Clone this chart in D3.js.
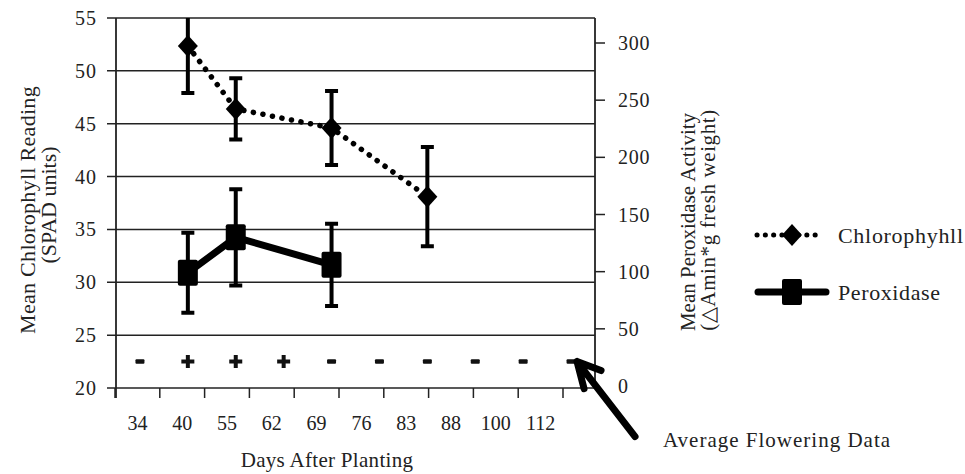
<!DOCTYPE html>
<html lang="en">
<head>
<meta charset="UTF-8" />
<title>Chlorophyll and Peroxidase</title>
<script src="https://d3js.org/d3.v7.min.js"></script>
<style>
    body { margin: 0; background: #fff; }
    svg text { font-family: "Liberation Serif", "Times New Roman", serif; fill: #222; }
    .grid line { stroke: #222; }
</style>
</head>
<body>
<svg width="965" height="474"></svg>
<script>
const days = ['34', '40', '55', '62', '69', '76', '83', '88', '100', '112'];
const flowering = ['-', '+', '+', '+', '-', '-', '-', '-', '-', '-'];
const chlDays = ['40', '55', '69', '83'];
const chlMean = [52.35, 46.4, 44.6, 38.1];
const chlErr = [4.45, 2.9, 3.5, 4.7];
const perDays = ['40', '55', '69'];
const perMean = [99, 130, 106];
const perErr = [35, 42, 36];
const leftTicks = [20, 25, 30, 35, 40, 45, 50, 55];
const rightTicks = [0, 50, 100, 150, 200, 250, 300];

const svg = d3.select('svg');
const pLeft = 116, pRight = 595, pTop = 18, pBottom = 388;

// data positions use the full plot width, the printed day labels sit a bit compressed
const x = d3.scaleBand().domain(days).range([pLeft, pRight]);
const xLab = d3.scaleBand().domain(days).range([115, 563]);
const yL = d3.scaleLinear().domain([20, 55]).range([pBottom, pTop]);
const yR = d3.scaleLinear().domain([0, 300]).range([386, 43]);
const cx = (d) => x(d) + x.bandwidth() / 2;

svg.append('defs').append('clipPath').attr('id', 'plot')
    .append('rect').attr('x', pLeft - 20).attr('y', pTop).attr('width', pRight - pLeft + 40).attr('height', pBottom - pTop);

// gridlines + left ticks
svg.append('g').attr('class', 'grid')
    .selectAll('line').data(leftTicks).join('line')
    .attr('x1', pLeft - 9).attr('x2', pRight)
    .attr('y1', (d) => yL(d)).attr('y2', (d) => yL(d))
    .attr('stroke-width', 1.5);

svg.append('g').selectAll('text').data(leftTicks).join('text')
    .attr('x', 97).attr('y', (d) => yL(d)).attr('dy', '0.35em')
    .attr('text-anchor', 'end').style('font-size', '20px').style('letter-spacing', '1px').text((d) => d);

// axes lines
svg.append('line').attr('x1', pLeft).attr('x2', pLeft).attr('y1', pTop).attr('y2', pBottom + 10)
    .attr('stroke', '#222').attr('stroke-width', 1.8);
svg.append('line').attr('x1', pRight).attr('x2', pRight).attr('y1', pTop).attr('y2', pBottom)
    .attr('stroke', '#222').attr('stroke-width', 1.8);

// bottom ticks at label-band edges
const edges = days.map((d) => xLab(d)).concat([xLab.range()[1]]);
svg.append('g').selectAll('line').data(edges).join('line')
    .attr('x1', (d) => d).attr('x2', (d) => d).attr('y1', pBottom).attr('y2', pBottom + 10)
    .attr('stroke', '#222').attr('stroke-width', 1.5);
svg.append('g').selectAll('text').data(days).join('text')
    .attr('x', (d) => xLab(d) + xLab.bandwidth() / 2).attr('y', 423).attr('dy', '0.35em')
    .attr('text-anchor', 'middle').style('font-size', '20px').text((d) => d);

// right axis
svg.append('g').selectAll('line').data(rightTicks.filter((d) => d > 0)).join('line')
    .attr('x1', pRight).attr('x2', pRight + 10)
    .attr('y1', (d) => yR(d)).attr('y2', (d) => yR(d))
    .attr('stroke', '#222').attr('stroke-width', 1.5);
svg.append('g').selectAll('text').data(rightTicks).join('text')
    .attr('x', 618).attr('y', (d) => yR(d)).attr('dy', '0.35em')
    .style('font-size', '20px').style('letter-spacing', '0.8px').text((d) => d);

// titles
svg.append('text').attr('transform', 'translate(27,210) rotate(-90)')
    .attr('text-anchor', 'middle').attr('dominant-baseline', 'central')
    .style('font-size', '22px').style('letter-spacing', '0.3px').text('Mean Chlorophyll Reading');
svg.append('text').attr('transform', 'translate(48,205) rotate(-90)')
    .attr('text-anchor', 'middle').attr('dominant-baseline', 'central')
    .style('font-size', '22px').text('(SPAD units)');
svg.append('text').attr('transform', 'translate(688,222) rotate(-90)')
    .attr('text-anchor', 'middle').attr('dominant-baseline', 'central')
    .style('font-size', '21px').text('Mean Peroxidase Activity');
svg.append('text').attr('transform', 'translate(708,220) rotate(-90)')
    .attr('text-anchor', 'middle').attr('dominant-baseline', 'central')
    .style('font-size', '21px').style('letter-spacing', '0.6px').text('(\u25B3Amin*g fresh weight)');
svg.append('text').attr('x', 327).attr('y', 460).attr('dy', '0.35em')
    .attr('text-anchor', 'middle').style('font-size', '21px').style('letter-spacing', '0.3px').text('Days After Planting');

// flowering markers
const fl = svg.append('g');
flowering.forEach((s, i) => {
    const px = cx(days[i]), py = yL(22.5);
    if (s === '+') {
        fl.append('path').attr('d', `M${px - 6.5},${py}H${px + 6.5}M${px},${py - 6.5}V${py + 6.5}`)
            .attr('stroke', '#111').attr('stroke-width', 4);
    } else {
        fl.append('rect').attr('x', px - 4.5).attr('y', py - 2.2).attr('width', 9).attr('height', 4.4)
            .attr('rx', 1).attr('fill', '#111');
    }
});

const plot = svg.append('g').attr('clip-path', 'url(#plot)');

function errorBars(g, keys, means, errs, y) {
    keys.forEach((k, i) => {
        const px = cx(k), y1 = y(means[i] + errs[i]), y2 = y(means[i] - errs[i]);
        g.append('path').attr('d', `M${px},${y1}V${y2}M${px - 6.5},${y1}H${px + 6.5}M${px - 6.5},${y2}H${px + 6.5}`)
            .attr('stroke', '#000').attr('stroke-width', 4).attr('fill', 'none');
    });
}

// chlorophyll
errorBars(plot, chlDays, chlMean, chlErr, yL);
const chlLine = d3.line().x((d, i) => cx(chlDays[i])).y((d) => yL(d));
plot.append('path').attr('d', chlLine(chlMean)).attr('fill', 'none').attr('stroke', '#000')
    .attr('stroke-width', 5.5).attr('stroke-linecap', 'round').attr('stroke-dasharray', '0.1 9.6');
const diamond = 'M0,-11L10,0L0,11L-10,0Z';
plot.selectAll('.dia').data(chlMean).join('path').attr('class', 'dia')
    .attr('d', diamond).attr('transform', (d, i) => `translate(${cx(chlDays[i])},${yL(d)})`);

// peroxidase
errorBars(plot, perDays, perMean, perErr, yR);
const perLine = d3.line().x((d, i) => cx(perDays[i])).y((d) => yR(d));
plot.append('path').attr('d', perLine(perMean)).attr('fill', 'none').attr('stroke', '#000')
    .attr('stroke-width', 7).attr('stroke-linejoin', 'round');
plot.selectAll('.sq').data(perMean).join('rect').attr('class', 'sq')
    .attr('x', (d, i) => cx(perDays[i]) - 10).attr('y', (d) => yR(d) - 13)
    .attr('width', 20).attr('height', 26).attr('rx', 2);

// legend
const lg = svg.append('g');
lg.append('line').attr('x1', 757).attr('x2', 823).attr('y1', 235).attr('y2', 235)
    .attr('stroke', '#000').attr('stroke-width', 5).attr('stroke-linecap', 'round').attr('stroke-dasharray', '0.1 8.2');
lg.append('path').attr('d', diamond).attr('transform', 'translate(792,235)');
lg.append('text').attr('x', 838).attr('y', 235).attr('dy', '0.35em').style('font-size', '22px').style('letter-spacing', '0.7px').text('Chlorophyhll');
lg.append('line').attr('x1', 758).attr('x2', 826).attr('y1', 292).attr('y2', 292)
    .attr('stroke', '#000').attr('stroke-width', 7).attr('stroke-linecap', 'round');
lg.append('rect').attr('x', 782).attr('y', 279).attr('width', 20).attr('height', 26).attr('rx', 2);
lg.append('text').attr('x', 838).attr('y', 292).attr('dy', '0.35em').style('font-size', '22px').style('letter-spacing', '0.6px').text('Peroxidase');

// annotation arrow pointing at the last flowering marker
const tx = cx(days[days.length - 1]) + 6, ty = yL(22.5);
svg.append('path')
    .attr('d', `M${tx + 58},${ty + 75}L${tx},${ty}M${tx + 24},${ty + 9}L${tx},${ty}L${tx + 7},${ty + 27}`)
    .attr('fill', 'none').attr('stroke', '#000').attr('stroke-width', 7)
    .attr('stroke-linecap', 'round').attr('stroke-linejoin', 'round');
svg.append('text').attr('x', 663).attr('y', 440).attr('dy', '0.35em').style('font-size', '21px').style('letter-spacing', '1px').text('Average Flowering Data');
</script>
</body>
</html>
